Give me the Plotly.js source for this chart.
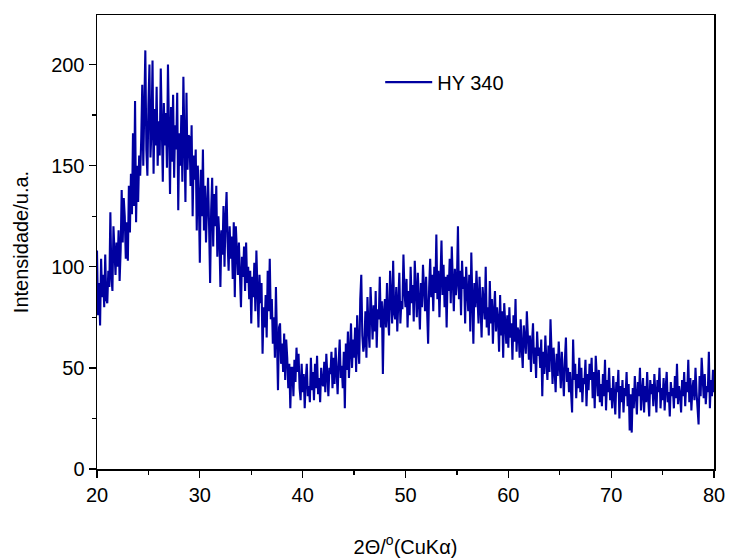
<!DOCTYPE html>
<html>
<head>
<meta charset="utf-8">
<script src="https://cdn.plot.ly/plotly-3.0.1.min.js"></script>
<style>html,body{margin:0;padding:0;background:#fff;}#chart{width:730px;height:559px;}</style>
</head>
<body>
<div id="chart"></div>
<script>
// 2-theta start and step (degrees)
const xStart = 20;
const xStep = 0.1;
const seriesName = "HY 340";
// intensity readings, 10 per degree from 20.0 to 80.0
const intensity = [
  108, 76, 92, 71, 104, 85, 96, 80, 106, 84,
  82, 98, 90, 127, 95, 88, 120, 105, 96, 112,
  100, 118, 93, 108, 138, 112, 134, 125, 104, 122,
  103, 140, 117, 146, 126, 166, 130, 182, 122, 150,
  132, 155, 145, 163, 190, 150, 176, 207, 158, 145,
  180, 200, 154, 168, 202, 146, 178, 160, 189, 150,
  172, 155, 198, 165, 142, 181, 160, 176, 149, 200,
  168, 136, 179, 152, 185, 144, 170, 158, 186, 128,
  166, 150, 175, 142, 194, 156, 132, 186, 148, 165,
  164, 140, 170, 125, 155, 143, 158, 118, 150, 135,
  102, 148, 125, 158, 118, 140, 112, 130, 144, 120,
  92, 128, 144, 110, 136, 120, 140, 105, 125, 115,
  90, 118, 106, 130, 100, 124, 137, 112, 98, 120,
  104, 115, 94, 122, 85, 120, 108, 96, 112, 100,
  80, 105, 95, 110, 88, 112, 92, 100, 84, 98,
  72, 95, 85, 102, 78, 108, 90, 70, 96, 82,
  92, 57, 80, 70, 86, 65, 98, 78, 104, 74,
  84, 62, 75, 55, 90, 68, 39, 70, 72, 52,
  62, 48, 67, 44, 64, 55, 40, 52, 30, 50,
  50, 36, 54, 43, 60, 48, 57, 40, 34, 52,
  38, 47, 30, 44, 52, 36, 41, 33, 55, 39,
  48, 34, 52, 40, 56, 37, 45, 33, 50, 42,
  41, 53, 38, 57, 44, 36, 50, 47, 58, 40,
  55, 42, 60, 48, 37, 53, 64, 45, 51, 40,
  58, 30, 62, 49, 68, 45, 57, 72, 50, 64,
  55, 70, 48, 76, 60, 52, 84, 96, 66, 58,
  62, 78, 55, 85, 70, 60, 90, 72, 64, 81,
  68, 88, 60, 79, 74, 95, 70, 83, 47, 78,
  84, 70, 92, 75, 66, 98, 80, 72, 103, 77,
  74, 90, 68, 86, 97, 72, 83, 79, 106, 88,
  80, 94, 70, 88, 76, 100, 82, 91, 73, 103,
  90, 75, 97, 84, 69, 92, 80, 101, 86, 78,
  95, 82, 62, 90, 104, 85, 96, 78, 100, 87,
  116, 84, 98, 75, 92, 113, 86, 101, 80, 95,
  70, 96, 88, 104, 82, 110, 93, 78, 99, 86,
  92, 120, 84, 98, 76, 103, 89, 95, 72, 100,
  88, 78, 96, 68, 107, 85, 62, 92, 80, 98,
  84, 72, 95, 77, 65, 90, 82, 74, 100, 70,
  80, 66, 93, 72, 84, 62, 78, 88, 68, 80,
  74, 58, 86, 66, 78, 55, 82, 70, 62, 76,
  60, 80, 65, 72, 54, 76, 63, 84, 58, 70,
  68, 55, 74, 60, 50, 71, 64, 57, 78, 62,
  54, 66, 48, 62, 72, 52, 60, 45, 68, 56,
  60, 50, 64, 36, 58, 47, 66, 53, 44, 61,
  48, 74, 55, 42, 60, 50, 38, 57, 46, 63,
  52, 40, 58, 45, 36, 54, 65, 43, 50, 38,
  48, 38, 28, 64, 44, 52, 35, 47, 40, 55,
  38, 50, 33, 45, 42, 54, 31, 47, 39, 52,
  44, 55, 35, 48, 30, 56, 41, 36, 49, 33,
  42, 31, 47, 36, 54, 29, 44, 38, 50, 34,
  40, 30, 46, 35, 27, 43, 38, 49, 25, 41,
  33, 44, 28, 40, 36, 48, 31, 42, 19, 37,
  18, 40, 30, 46, 34, 27, 43, 36, 50, 29,
  38, 45, 28, 41, 33, 48, 35, 26, 44, 37,
  42, 31, 47, 36, 28, 44, 38, 50, 30, 40,
  34, 45, 29, 40, 48, 33, 38, 26, 43, 36,
  40, 30, 46, 35, 52, 32, 41, 37, 28, 44,
  36, 48, 31, 43, 38, 54, 33, 45, 29, 40,
  44, 34, 50, 38, 30, 22, 46, 36, 55, 41,
  35, 47, 32, 41, 38, 58, 30, 44, 36, 49,
  38
];
const twoTheta = intensity.map((_, i) => +(xStart + i * xStep).toFixed(2));

const xTickVals = [20, 30, 40, 50, 60, 70, 80];
const yTickVals = [0, 50, 100, 150, 200];

const FONT = "Liberation Sans, Arial, sans-serif";
const trace = {
  x: twoTheta, y: intensity, type: "scatter", mode: "lines",
  name: seriesName,
  line: {color: "#0000A0", width: 2.1}
};
const axisCommon = {
  showgrid: false, zeroline: false, showline: true, mirror: true,
  linecolor: "#000", linewidth: 1.5,
  ticks: "outside", ticklen: 7, tickwidth: 1.3, tickcolor: "#000",
  tickfont: {family: FONT, size: 20, color: "#000"},
  minor: {ticks: "outside", ticklen: 4, tickwidth: 1.3, tickcolor: "#000"}
};
const layout = {
  width: 730, height: 559,
  margin: {l: 97, r: 16, t: 15, b: 90},
  paper_bgcolor: "#fff", plot_bgcolor: "#fff",
  showlegend: true,
  legend: {x: 0.459, y: 0.895, xanchor: "left", yanchor: "top", itemwidth: 47,
           bgcolor: "rgba(0,0,0,0)", font: {family: FONT, size: 20, color: "#000"}},
  xaxis: Object.assign({}, axisCommon, {
    range: [20, 80], tickvals: xTickVals, minor: Object.assign({}, axisCommon.minor, {dtick: 5, tick0: 20}),
    title: {text: "2Θ/<sup>o</sup>(CuKα)", font: {family: FONT, size: 20, color: "#000"}, standoff: 35}
  }),
  yaxis: Object.assign({}, axisCommon, {
    range: [0, 224.5], tickvals: yTickVals, minor: Object.assign({}, axisCommon.minor, {dtick: 25, tick0: 0}),
    title: {text: "Intensidade/u.a.", font: {family: FONT, size: 20, color: "#000"}, standoff: 17}
  })
};
Plotly.newPlot("chart", [trace], layout, {displayModeBar: false, staticPlot: true});
</script>
</body>
</html>
